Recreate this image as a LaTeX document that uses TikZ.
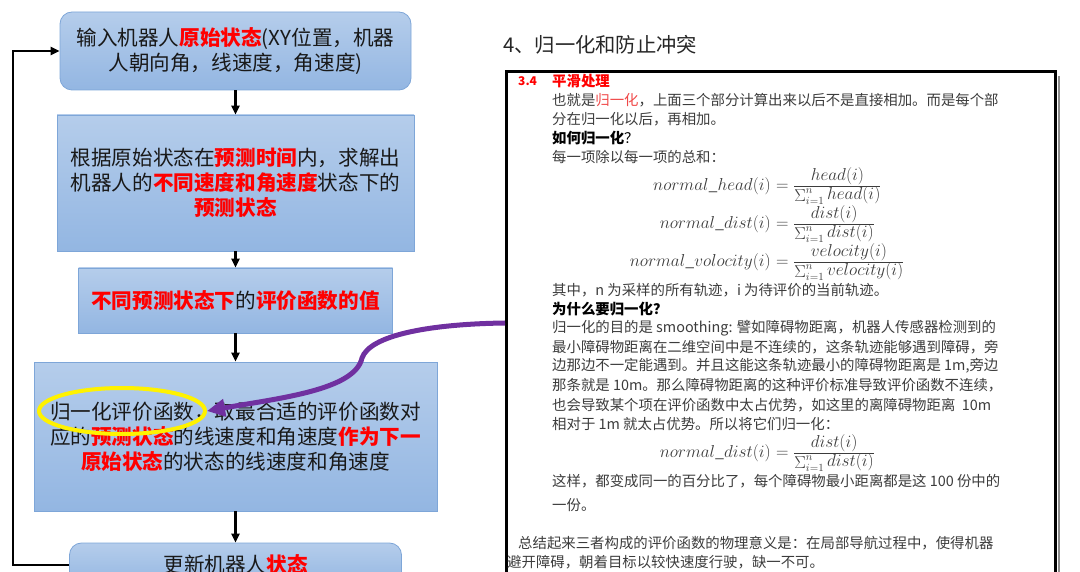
\documentclass[tikz,border=0pt]{standalone}
\usepackage{fontspec}
\setmainfont{Noto Sans CJK SC}
\usepackage{amsmath}
\usetikzlibrary{arrows.meta,shapes.geometric}

\definecolor{boxtop}{HTML}{B5CDEB}
\definecolor{boxbot}{HTML}{93B6E2}
\definecolor{boxline}{HTML}{7EA6D8}
\definecolor{pathpurple}{HTML}{7030A0}
\definecolor{doctext}{HTML}{3C3C3C}
\definecolor{softred}{HTML}{F04848}
\newcommand{\keyred}[1]{{\color{red}\bfseries #1}}
\newcommand{\normfrac}[1]{{}={\textstyle\frac{\textstyle #1(i)}{\textstyle \mathop{\Sigma}\nolimits_{i=1}^{n} #1(i)}}}

\tikzset{
  flowbox/.style={draw=boxline, line width=0.8pt, top color=boxtop, bottom color=boxbot,
    align=center, inner sep=0pt, font=\fontsize{20.6pt}{25pt}\selectfont, text=black!90},
  flowarrow/.style={-{Triangle[length=9pt,width=8pt]}, line width=2.5pt},
  docline/.style={anchor=west, inner sep=0pt, font=\fontsize{14.4pt}{19pt}\selectfont, text=doctext},
  fmlname/.style={anchor=east, inner sep=0pt, font=\fontsize{16pt}{19pt}\selectfont, text=doctext},
  fmlfrac/.style={anchor=west, inner sep=0pt, font=\fontsize{16pt}{19pt}\selectfont, text=doctext}
}

\begin{document}
\begin{tikzpicture}[x=1pt, y=-1pt]
    \useasboundingbox (0,0) rectangle (1080,572);
    \clip (0,0) rectangle (1080,572);
    % Flow chart on the left
    \node[flowbox, rounded corners=12pt, minimum width=351pt, minimum height=78pt] (input) at (235.5,51)
      {输入机器人\keyred{原始状态}(XY位置，机器\\人朝向角，线速度，角速度)};
    \node[flowbox, minimum width=357pt, minimum height=136pt] (predict) at (235.5,183)
      {根据原始状态在\keyred{预测时间}内，求解出\\机器人的\keyred{不同速度和角速度}状态下的\\\keyred{预测状态}};
    \node[flowbox, minimum width=314pt, minimum height=65pt] (score) at (235.5,300.5)
      {\keyred{不同预测状态下}的\keyred{评价函数的值}};
    \node[flowbox, minimum width=403pt, minimum height=149pt] (choose) at (235.5,436.5)
      {归一化评价函数，取最合适的评价函数对\\应的\keyred{预测状态}的线速度和角速度\keyred{作为下一}\\\keyred{原始状态}的状态的线速度和角速度};
    \node[flowbox, rounded corners=12pt, minimum width=332pt, minimum height=44pt] (update) at (235.5,565)
      {更新机器人\keyred{状态}};
    % Arrows between the steps
    \draw[flowarrow] (input) -- (predict);
    \draw[flowarrow] (predict) -- (score);
    \draw[flowarrow] (score) -- (choose);
    \draw[flowarrow] (choose) -- (update);
    % Loop back to the start
    \draw[flowarrow] (update.west) -- ++(-56,0) |- (input.west);
    % Title on the right
    \node[anchor=west, inner sep=0pt, font=\fontsize{20.3pt}{24pt}\selectfont, text=black!85] (title) at (503,45)
      {4、归一化和防止冲突};
    % Page excerpt frame
    \draw[black!45, line width=2pt] (1058.5,76) -- (1058.5,600);
    \draw[line width=3pt] (506,72) rectangle (1055,620);
    % Page excerpt text
    \node[anchor=west, inner sep=0pt, font=\fontsize{12pt}{14pt}\selectfont\bfseries, text=red] (secnum) at (518,81) {3.4};
    \node[docline, font=\fontsize{14.4pt}{19pt}\selectfont\bfseries, text=red] (sectitle) at (552,81) {平滑处理};
    \node[docline] (l1) at (552,100) {也就是{\color{softred}归一化}，上面三个部分计算出来以后不是直接相加。而是每个部};
    \node[docline] (l2) at (552,119) {分在归一化以后，再相加。};
    \node[docline, text=black] (q1) at (552,138) {\bfseries 如何归一化\mdseries ？};
    \node[docline] (l3) at (552,157) {每一项除以每一项的总和：};
    % Formulas, lined up on the equals sign
    \node[fmlname] (fhead) at (771,186) {$normal\_head(i)$};
    \node[fmlfrac] (fheadr) at (fhead.east) {$\normfrac{head}$};
    \node[fmlname] (fdist) at (771,224) {$normal\_dist(i)$};
    \node[fmlfrac] (fdistr) at (fdist.east) {$\normfrac{dist}$};
    \node[fmlname] (fvel) at (771,262) {$normal\_volocity(i)$};
    \node[fmlfrac] (fvelr) at (fvel.east) {$\normfrac{velocity}$};
    \node[docline] (l4) at (552,290) {其中，n 为采样的所有轨迹，i 为待评价的当前轨迹。};
    \node[docline, text=black] (q2) at (552,309) {\bfseries 为什么要归一化？};
    \node[docline] (l5) at (552,328) {归一化的目的是 smoothing: 譬如障碍物距离，机器人传感器检测到的};
    \node[docline] (l6) at (552,347) {最小障碍物距离在二维空间中是不连续的，这条轨迹能够遇到障碍，旁};
    \node[docline] (l7) at (552,366) {边那边不一定能遇到。并且这能这条轨迹最小的障碍物距离是 1m,旁边};
    \node[docline] (l8) at (552,385) {那条就是 10m。那么障碍物距离的这种评价标准导致评价函数不连续，};
    \node[docline] (l9) at (552,405) {也会导致某个项在评价函数中太占优势，如这里的离障碍物距离\ \ 10m};
    \node[docline] (l10) at (552,424) {相对于 1m 就太占优势。所以将它们归一化：};
    \node[fmlname] (fdist2) at (771,453) {$normal\_dist(i)$};
    \node[fmlfrac] (fdist2r) at (fdist2.east) {$\normfrac{dist}$};
    \node[docline] (l11) at (552,481) {这样，都变成同一的百分比了，每个障碍物最小距离都是这 100 份中的};
    \node[docline] (l12) at (552,505) {一份。};
    \node[docline] (l13) at (518,543) {总结起来三者构成的评价函数的物理意义是：在局部导航过程中，使得机器};
    \node[docline] (l14) at (507,562) {避开障碍，朝着目标以较快速度行驶，缺一不可。};
    % Yellow ring and purple pointer
    \node[draw=yellow, line width=4pt, ellipse, minimum width=166pt, minimum height=46pt, inner sep=0pt] (ring) at (122,411) {};
    \coordinate (docedge) at (505,323);
    \draw[pathpurple, line width=5pt, -{Triangle[length=18pt,width=17pt]}]
      (docedge) .. controls (430,324) and (370,335) .. (362,358)
      .. controls (355,390) and (280,398) .. (ring.east);
\end{tikzpicture}
\end{document}
